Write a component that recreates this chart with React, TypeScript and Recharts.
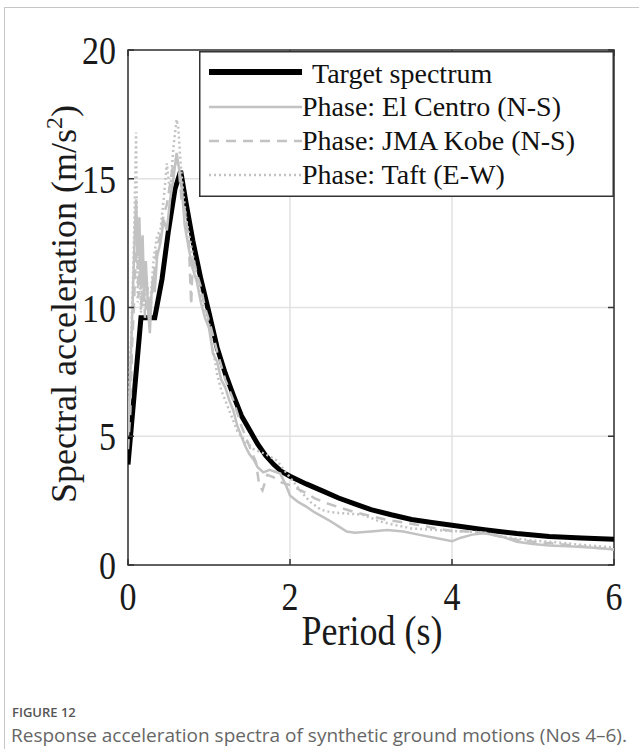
import React from "react"
import { CartesianGrid, Legend, Line, LineChart, ReferenceArea, XAxis, YAxis } from "recharts"

// target design spectrum
const targetPeriod = [0, 0.16, 0.33, 0.42, 0.5, 0.58, 0.65, 0.72, 0.8, 0.9, 1.0, 1.1, 1.2, 1.3, 1.4, 1.5, 1.6, 1.7, 1.8, 1.9, 2.0, 2.2, 2.4, 2.6, 2.8, 3.0, 3.25, 3.5, 3.75, 4.0, 4.4, 4.8, 5.2, 5.6, 6.0]
const targetSa = [3.9, 9.6, 9.6, 11.1, 13.0, 14.6, 15.3, 14.0, 12.6, 11.1, 9.8, 8.45, 7.45, 6.6, 5.8, 5.25, 4.7, 4.25, 3.9, 3.62, 3.45, 3.15, 2.88, 2.6, 2.37, 2.15, 1.95, 1.77, 1.65, 1.54, 1.37, 1.22, 1.11, 1.05, 1.0]

// phase: El Centro (N-S)
const centroPeriod = [0, 0.03, 0.06, 0.08, 0.1, 0.12, 0.14, 0.16, 0.18, 0.2, 0.22, 0.25, 0.27, 0.29, 0.31, 0.33, 0.36, 0.4, 0.44, 0.48, 0.52, 0.56, 0.6, 0.63, 0.66, 0.7, 0.75, 0.8, 0.85, 0.9, 0.95, 1.0, 1.05, 1.1, 1.15, 1.2, 1.25, 1.3, 1.35, 1.4, 1.45, 1.5, 1.55, 1.6, 1.67, 1.75, 1.88, 1.95, 2.0, 2.1, 2.2, 2.3, 2.4, 2.5, 2.6, 2.7, 2.8, 3.0, 3.2, 3.4, 3.6, 3.8, 4.0, 4.1, 4.25, 4.4, 4.6, 4.8, 5.0, 5.2, 5.5, 5.8, 6.0]
const centroSa = [5.0, 7.5, 10.5, 12.5, 14.2, 12.0, 13.5, 11.0, 12.8, 10.5, 11.8, 9.8, 9.0, 10.5, 11.2, 10.6, 12.0, 12.5, 13.4, 13.0, 14.2, 15.0, 16.0, 15.4, 14.8, 13.2, 12.3, 11.5, 11.0, 10.2, 9.6, 9.2, 8.2, 7.9, 7.2, 6.9, 6.4, 6.0, 5.4, 5.0, 4.6, 4.3, 4.1, 3.8, 3.6, 3.7, 3.55, 3.1, 2.7, 2.45, 2.27, 2.05, 1.88, 1.7, 1.5, 1.3, 1.25, 1.3, 1.36, 1.3, 1.17, 1.05, 0.92, 1.05, 1.18, 1.23, 1.12, 0.9, 0.82, 0.76, 0.72, 0.66, 0.6]

// phase: JMA Kobe (N-S)
const kobePeriod = [0, 0.03, 0.05, 0.07, 0.09, 0.11, 0.13, 0.15, 0.17, 0.19, 0.21, 0.24, 0.27, 0.3, 0.33, 0.36, 0.4, 0.44, 0.48, 0.52, 0.56, 0.6, 0.63, 0.66, 0.7, 0.75, 0.78, 0.8, 0.85, 0.9, 0.95, 1.0, 1.1, 1.2, 1.3, 1.4, 1.5, 1.58, 1.62, 1.66, 1.72, 1.8, 1.9, 2.0, 2.1, 2.2, 2.3, 2.45, 2.6, 2.8, 3.0, 3.2, 3.4, 3.6, 3.8, 4.0, 4.2, 4.4, 4.6, 4.8, 5.0, 5.3, 5.6, 6.0]
const kobeSa = [4.5, 6.0, 8.5, 9.8, 11.5, 12.8, 10.4, 12.0, 10.0, 11.4, 9.6, 10.8, 9.8, 10.6, 11.5, 12.4, 12.8, 13.6, 14.0, 14.8, 15.6, 15.8, 15.3, 14.2, 13.8, 12.6, 10.1, 12.0, 11.3, 10.8, 10.0, 9.5, 8.3, 7.2, 6.4, 5.4, 4.6, 4.0, 3.1, 2.9, 3.5, 3.4, 3.2, 3.1, 2.95, 2.8, 2.6, 2.4, 2.25, 2.05, 1.9, 1.75, 1.65, 1.55, 1.42, 1.32, 1.3, 1.25, 1.1, 0.98, 0.9, 0.82, 0.72, 0.6]

// phase: Taft (E-W)
const taftPeriod = [0, 0.02, 0.04, 0.06, 0.08, 0.1, 0.11, 0.12, 0.14, 0.16, 0.18, 0.2, 0.23, 0.26, 0.29, 0.32, 0.36, 0.4, 0.44, 0.48, 0.52, 0.56, 0.6, 0.62, 0.65, 0.68, 0.72, 0.78, 0.85, 0.9, 1.0, 1.1, 1.15, 1.2, 1.3, 1.35, 1.45, 1.55, 1.7, 1.84, 1.95, 2.05, 2.15, 2.25, 2.38, 2.5, 2.7, 2.9, 3.1, 3.3, 3.5, 3.8, 4.0, 4.2, 4.4, 4.6, 4.8, 5.0, 5.3, 5.6, 6.0]
const taftSa = [5.5, 7.4, 9.0, 11.0, 13.5, 16.8, 13.0, 10.2, 12.6, 9.8, 12.0, 10.0, 11.2, 9.6, 10.8, 12.0, 12.8, 13.0, 14.2, 15.6, 14.4, 16.2, 17.3, 17.0, 15.6, 14.5, 13.4, 12.4, 11.2, 10.4, 9.4, 7.4, 6.8, 6.4, 5.6, 5.2, 4.8, 4.5, 4.3, 4.05, 3.6, 3.2, 2.8, 2.45, 2.15, 2.05, 2.0, 1.95, 1.7, 1.55, 1.42, 1.36, 1.32, 1.3, 1.26, 1.12, 1.02, 0.95, 0.88, 0.78, 0.68]

const xTicks = [0, 2, 4, 6]
const yTicks = [0, 5, 10, 15, 20]

const toPoints = (period: number[], sa: number[]) => period.map((p, i) => ({ period: p, sa: sa[i] }))

const series = [
  { name: "Target spectrum", data: toPoints(targetPeriod, targetSa), color: "#000000", width: 5, dash: undefined },
  { name: "Phase: El Centro (N-S)", data: toPoints(centroPeriod, centroSa), color: "#c2c2c2", width: 2.5, dash: undefined },
  { name: "Phase: JMA Kobe (N-S)", data: toPoints(kobePeriod, kobeSa), color: "#c2c2c2", width: 2.5, dash: "10 7" },
  { name: "Phase: Taft (E-W)", data: toPoints(taftPeriod, taftSa), color: "#c2c2c2", width: 2.5, dash: "2 3" },
]

const SERIF = "'Liberation Serif', 'Times New Roman', serif"
const PLOT = { left: 128, top: 50, right: 614, bottom: 565 }
const W = 639
const H = 749
const SY = 1.2 // the source figure's lettering is stretched vertically

const XTick = (props: any) => {
  const { x, payload } = props
  return (
    <g>
      <line x1={x} x2={x} y1={PLOT.bottom} y2={PLOT.bottom - 6} stroke="#333" strokeWidth={1.5} />
      <line x1={x} x2={x} y1={PLOT.top} y2={PLOT.top + 6} stroke="#333" strokeWidth={1.5} />
      <text transform={`translate(${x},${PLOT.bottom + 45}) scale(1,${SY})`} textAnchor="middle" fontSize={34} fontFamily={SERIF} fill="#1a1a1a">
        {payload.value}
      </text>
    </g>
  )
}

const YTick = (props: any) => {
  const { y, payload } = props
  return (
    <g>
      <line x1={PLOT.left} x2={PLOT.left + 6} y1={y} y2={y} stroke="#333" strokeWidth={1.5} />
      <line x1={PLOT.right} x2={PLOT.right - 6} y1={y} y2={y} stroke="#333" strokeWidth={1.5} />
      <text transform={`translate(116,${y + 14}) scale(1,${SY})`} textAnchor="end" fontSize={34} fontFamily={SERIF} fill="#1a1a1a">
        {payload.value}
      </text>
    </g>
  )
}

const renderLegend = () => (
  <svg width={415} height={146} style={{ display: "block" }}>
    <rect x={0.75} y={0.75} width={413.5} height={144.5} fill="#fff" stroke="#333" strokeWidth={1.5} />
    {series.map((s, i) => {
      const ly = i === 0 ? 21 : 22 + i * 34
      return (
        <g key={s.name}>
          <line x1={10} x2={103} y1={ly} y2={ly} stroke={s.color} strokeWidth={i === 0 ? 6 : 2.5} strokeDasharray={s.dash} />
          <text x={i === 0 ? 113 : 103} y={i === 0 ? 32 : ly + 9} fontSize={28} fontFamily={SERIF} fill="#111">
            {s.name}
          </text>
        </g>
      )
    })}
  </svg>
)

export default function App() {
  return (
    <div style={{ position: "absolute", left: 0, top: 0, width: W, height: H, background: "#fff" }}>
      <div
        style={{
          position: "absolute",
          left: 4,
          top: 7,
          width: W - 4,
          height: H - 7,
          borderLeft: "1.5px solid #c6c6c6",
          borderTop: "1.5px solid #c6c6c6",
        }}
      />
      <LineChart width={W} height={H} margin={{ top: PLOT.top, right: W - PLOT.right, left: PLOT.left - 60, bottom: H - PLOT.bottom - 40 }}>
        <CartesianGrid stroke="#e2e2e2" strokeWidth={1.5} />
        <XAxis
          dataKey="period"
          type="number"
          domain={[0, 6]}
          ticks={xTicks}
          height={40}
          axisLine={false}
          tickLine={false}
          tick={<XTick />}
          allowDataOverflow
        />
        <YAxis
          type="number"
          domain={[0, 20]}
          ticks={yTicks}
          width={60}
          axisLine={false}
          tickLine={false}
          tick={<YTick />}
          allowDataOverflow
        />
        <ReferenceArea x1={0} x2={6} y1={0} y2={20} fill="none" stroke="#333" strokeWidth={1.5} ifOverflow="visible" />
        {series.map((s) => (
          <Line
            key={s.name}
            data={s.data}
            dataKey="sa"
            name={s.name}
            type="linear"
            stroke={s.color}
            strokeWidth={s.width}
            strokeDasharray={s.dash}
            dot={false}
            activeDot={false}
            isAnimationActive={false}
          />
        ))}
        <Legend
          layout="horizontal"
          verticalAlign="middle"
          align="center"
          content={renderLegend}
          wrapperStyle={{ left: 199, top: 51, width: 415, height: 146 }}
        />
        <text transform={`translate(372,645) scale(1,${SY})`} textAnchor="middle" fontSize={36} fontFamily={SERIF} fill="#1a1a1a">
          Period (s)
        </text>
        <text transform="translate(76,304) rotate(-90)" textAnchor="middle" fontSize={36} fontFamily={SERIF} fill="#1a1a1a">
          Spectral acceleration (m/s
          <tspan fontSize={24} dy={-14}>2</tspan>
          <tspan dy={14}>)</tspan>
        </text>
      </LineChart>
      <div style={{ position: "absolute", left: 12, top: 703, fontFamily: "'Open Sans', sans-serif", fontSize: 13, fontWeight: 600, color: "#555" }}>
        FIGURE 12
      </div>
      <div style={{ position: "absolute", left: 11, top: 722, fontFamily: "'Open Sans', sans-serif", fontSize: 19, color: "#666", whiteSpace: "nowrap" }}>
        Response acceleration spectra of synthetic ground motions (Nos 4–6).
      </div>
    </div>
  )
}
